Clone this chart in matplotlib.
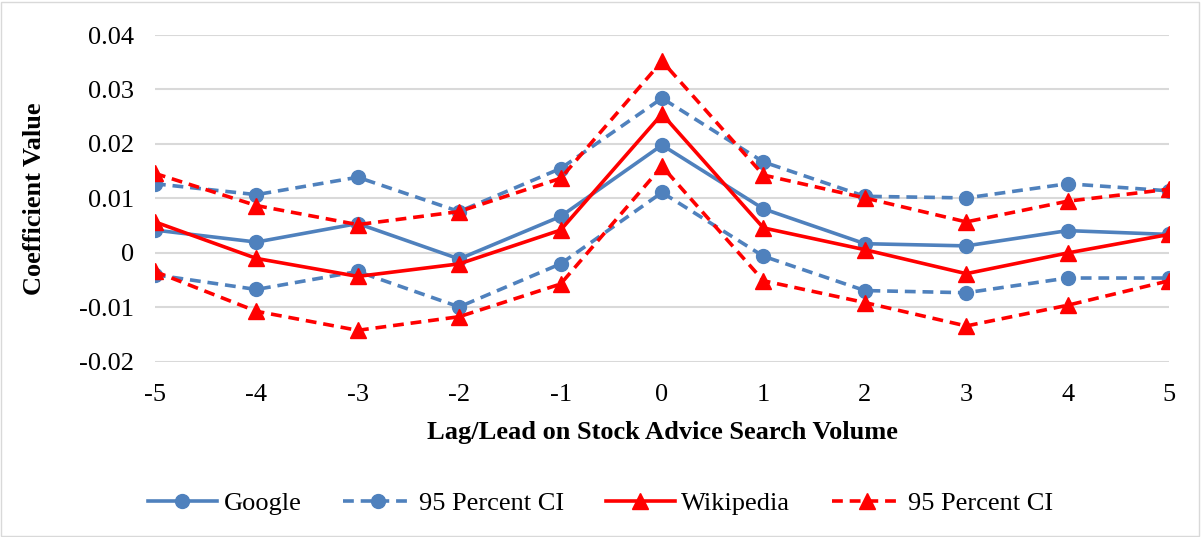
import numpy as np
import matplotlib
matplotlib.use('Agg')
import matplotlib.pyplot as plt
from matplotlib.patches import Rectangle

lags = [-5, -4, -3, -2, -1, 0, 1, 2, 3, 4, 5]

google      = [0.0042, 0.0020, 0.0054, -0.0011, 0.0067, 0.0198, 0.0081, 0.0017, 0.0013, 0.0041, 0.0034]
google_hi   = [0.0127, 0.0107, 0.0139, 0.0076, 0.0155, 0.0284, 0.0167, 0.0104, 0.0101, 0.0127, 0.0114]
google_lo   = [-0.0040, -0.0067, -0.0034, -0.0099, -0.0020, 0.0111, -0.0006, -0.0069, -0.0073, -0.0046, -0.0046]
wiki        = [0.0057, -0.0010, -0.0043, -0.0020, 0.0042, 0.0255, 0.0046, 0.0006, -0.0038, 0.0000, 0.0034]
wiki_hi     = [0.0146, 0.0087, 0.0052, 0.0076, 0.0137, 0.0352, 0.0143, 0.0101, 0.0057, 0.0095, 0.0117]
wiki_lo     = [-0.0034, -0.0107, -0.0142, -0.0117, -0.0057, 0.0159, -0.0051, -0.0091, -0.0134, -0.0096, -0.0051]

yticks = [-0.02, -0.01, 0, 0.01, 0.02, 0.03, 0.04]
ylabels = ['-0.02', '-0.01', '0', '0.01', '0.02', '0.03', '0.04']

plt.rcParams['font.family'] = ['Liberation Serif', 'DejaVu Serif']

blue = '#4F81BD'
red = '#FF0000'

fig = plt.figure(figsize=(12.01, 5.37), dpi=100)
ax = fig.add_axes([0.129, 0.326, 0.8444, 0.6088])

lw = 2.6
dash = (3.0, 1.9)
ax.plot(lags, google, color=blue, lw=lw, marker='o', ms=10, label='Google', zorder=3)
ax.plot(lags, google_hi, color=blue, lw=lw, ls='--', dashes=dash, marker='o', ms=10,
		label='95 Percent CI', zorder=3)
ax.plot(lags, google_lo, color=blue, lw=lw, ls='--', dashes=dash, marker='o', ms=10, zorder=3)
ax.plot(lags, wiki, color=red, lw=lw, marker='^', ms=11, label='Wikipedia', zorder=4)
ax.plot(lags, wiki_hi, color=red, lw=lw, ls='--', dashes=dash, marker='^', ms=11,
		label='95 Percent CI', zorder=4)
ax.plot(lags, wiki_lo, color=red, lw=lw, ls='--', dashes=dash, marker='^', ms=11, zorder=4)

ax.set_xlim(-5, 5)
ax.set_ylim(-0.02, 0.04)
ax.set_xticks(lags)
ax.set_xticklabels([str(v) for v in lags])
ax.set_yticks(yticks)
ax.set_yticklabels(ylabels)
ax.tick_params(length=0, labelsize=19, colors='black')
ax.tick_params(axis='x', pad=16)
ax.tick_params(axis='y', pad=15)
ax.grid(axis='y', color='#d9d9d9', lw=1.5)
ax.set_axisbelow(True)
for s in ax.spines.values():
	s.set_visible(False)

ax.set_xlabel('Lag/Lead on Stock Advice Search Volume', fontsize=19, fontweight='bold', labelpad=11)
ax.set_ylabel('Coefficient Value', fontsize=19, fontweight='bold', labelpad=24)

fig.legend(loc='center', bbox_to_anchor=(0.5, 0.063), ncol=4, frameon=False, fontsize=19,
		   handlelength=2.6, columnspacing=1.6, handletextpad=0.25)

fig.patches.append(Rectangle((0.001, 0.002), 0.997, 0.995, transform=fig.transFigure,
							 fill=False, edgecolor='#d9d9d9', lw=1))

fig.savefig('out.png', dpi=100)
